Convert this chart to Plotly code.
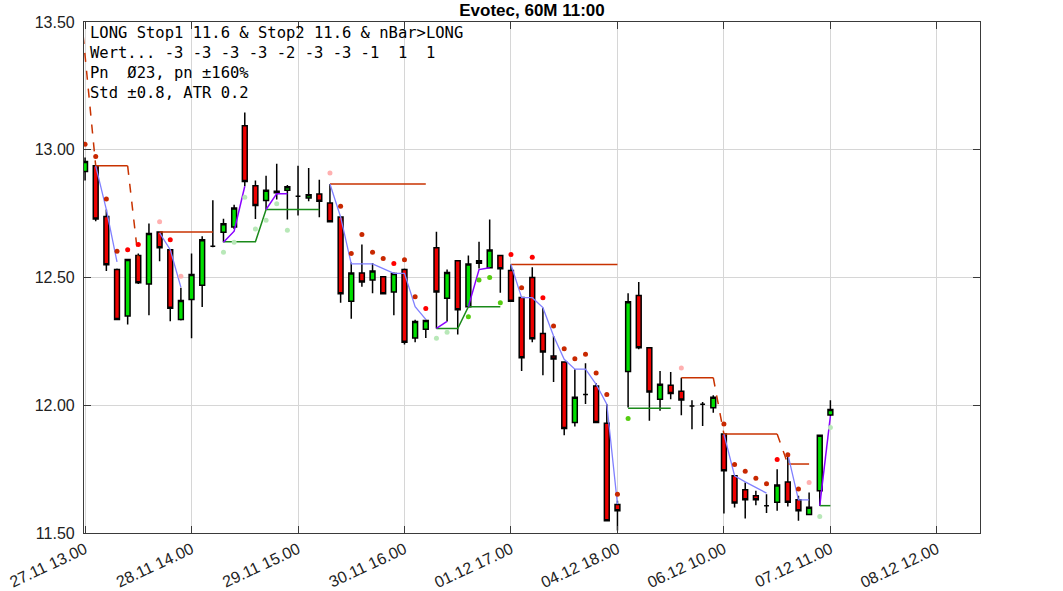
import plotly.graph_objects as go

# ---------------- data ----------------
bar_index = list(range(71))
open_ = [12.915, 12.937, 12.739, 12.531, 12.349, 12.586, 12.475, 12.678, 12.609, 12.336,
         12.414, 12.470, 12.622, 12.677, 12.698, 13.094, 12.859, 12.801, 12.838, 12.841,
         12.818, 12.811, 12.827, 12.792, 12.737, 12.407, 12.518, 12.490, 12.503, 12.443,
         12.531, 12.263, 12.297, 12.616, 12.419, 12.566, 12.386, 12.556, 12.538, 12.586,
         12.527, 12.422, 12.500, 12.281, 12.193, 12.169, 11.932, 12.042, 12.075, 11.930,
         11.612, 12.132, 12.430, 12.225, 12.023, 12.078, 12.055, 11.997, 12.004, 11.990,
         11.887, 11.724, 11.669, 11.646, 11.607, 11.620, 11.700, 11.630, 11.572, 11.665,
         11.962]
high = [12.970, 12.940, 12.766, 12.535, 12.570, 12.594, 12.711, 12.680, 12.612, 12.460,
        12.594, 12.661, 12.802, 12.730, 12.785, 13.146, 12.880, 12.898, 12.945, 12.862,
        12.937, 12.929, 12.883, 12.866, 12.740, 12.559, 12.629, 12.557, 12.505, 12.520,
        12.535, 12.335, 12.336, 12.679, 12.531, 12.568, 12.586, 12.640, 12.727, 12.588,
        12.551, 12.424, 12.540, 12.382, 12.271, 12.171, 12.141, 12.164, 12.086, 12.004,
        11.626, 12.438, 12.482, 12.227, 12.134, 12.130, 12.108, 12.020, 12.013, 12.039,
        11.889, 11.726, 11.698, 11.665, 11.652, 11.750, 11.809, 11.646, 11.659, 11.885,
        12.020]
low = [12.880, 12.720, 12.525, 12.333, 12.316, 12.475, 12.352, 12.564, 12.329, 12.332,
       12.262, 12.385, 12.618, 12.638, 12.690, 12.857, 12.729, 12.766, 12.805, 12.727,
       12.743, 12.798, 12.736, 12.716, 12.401, 12.339, 12.464, 12.438, 12.434, 12.352,
       12.238, 12.247, 12.263, 12.300, 12.328, 12.277, 12.384, 12.535, 12.536, 12.440,
       12.405, 12.134, 12.247, 12.117, 12.091, 11.883, 11.917, 12.005, 11.930, 11.546,
       11.510, 11.991, 12.219, 11.939, 11.978, 12.023, 11.961, 11.906, 11.919, 11.971,
       11.576, 11.600, 11.557, 11.609, 11.578, 11.587, 11.604, 11.548, 11.570, 11.607,
       11.958]
close = [12.954, 12.729, 12.550, 12.336, 12.570, 12.479, 12.672, 12.616, 12.380, 12.410,
         12.512, 12.648, 12.622, 12.710, 12.772, 12.876, 12.782, 12.841, 12.832, 12.855,
         12.818, 12.824, 12.798, 12.718, 12.436, 12.518, 12.482, 12.525, 12.436, 12.516,
         12.247, 12.328, 12.332, 12.443, 12.520, 12.374, 12.553, 12.566, 12.608, 12.534,
         12.407, 12.186, 12.260, 12.208, 12.181, 11.909, 12.031, 12.042, 11.932, 11.548,
         11.587, 12.405, 12.225, 12.052, 12.082, 12.046, 12.021, 11.997, 12.004, 12.031,
         11.744, 11.617, 11.630, 11.630, 11.607, 11.688, 11.620, 11.587, 11.601, 11.883,
         11.983]

tick_index = [0, 10, 20, 30, 40, 50, 60, 70, 80]
tick_labels = ["27.11 13.00", "28.11 14.00", "29.11 15.00", "30.11 16.00", "01.12 17.00",
               "04.12 18.00", "06.12 10.00", "07.12 11.00", "08.12 12.00"]
y_ticks = [11.5, 12.0, 12.5, 13.0, 13.5]

# stop line (solid parts), None = break
stop_x = [1, 4, None, 7, 12, None, 23, 32, None, 40, 50, None, 56, 59, None, 60, 65, None, 66, 68]
stop_y = [12.937, 12.937, None, 12.678, 12.678, None, 12.866, 12.866, None, 12.551, 12.551, None,
          12.108, 12.108, None, 11.887, 11.887, None, 11.770, 11.770]
# stop line (dashed transitions)
stopd_x = [-1, 1, None, 4, 5, None, 59, 60, None, 65, 66]
stopd_y = [13.80, 12.937, None, 12.937, 12.570, None, 12.108, 11.887, None, 11.887, 11.770]

# dots above
dark_x = [0, 1, 2, 3, 24, 25, 26, 27, 28, 30, 31, 41, 44, 45, 46, 47, 48, 49, 50,
          60, 61, 62, 63, 64, 66, 67]
dark_y = [13.022, 12.974, 12.807, 12.603, 12.779, 12.594, 12.668, 12.599, 12.574, 12.569,
          12.425, 12.460, 12.310, 12.221, 12.182, 12.200, 12.126, 12.042, 11.652,
          11.927, 11.768, 11.742, 11.714, 11.693, 11.806, 11.672]
bright_x = [4, 5, 8, 29, 32, 40, 42, 43, 65]
bright_y = [12.609, 12.629, 12.648, 12.555, 12.379, 12.590, 12.579, 12.421, 11.788]
pink_x = [7, 9, 23, 56, 68]
pink_y = [12.718, 12.505, 12.909, 12.146, 11.698]

# dots below
lgreen_x = [13, 14, 15, 16, 17, 18, 19, 33, 34, 69, 70]
lgreen_y = [12.599, 12.638, 12.814, 12.690, 12.724, 12.789, 12.685, 12.262, 12.286, 11.565, 11.913]
bgreen_x = [36, 37, 38, 39, 51]
bgreen_y = [12.346, 12.490, 12.500, 12.401, 11.948]

# green support line
green_x = [13, 16, 17, 22, None, 33, 35, 36, 39, None, 51, 55, None, 69, 70]
green_y = [12.640, 12.640, 12.766, 12.766, None, 12.300, 12.300, 12.386, 12.386, None,
           11.988, 11.988, None, 11.607, 11.607]

# blue trailing line
blue_x = [1, 2, 3, None, 7, 8, 9, None, 23, 24, 25, 26, 27, 28, 29, 30, 31, 32, None,
          40, 41, 42, 43, 44, 45, 46, 47, 48, 49, 50, None, 60, 61, 62, 63, 64, None, 66, 67, 68]
blue_y = [12.937, 12.766, 12.561, None, 12.675, 12.609, 12.462, None,
          12.866, 12.737, 12.553, 12.553, 12.553, 12.535, 12.516, 12.516, 12.386, 12.336, None,
          12.551, 12.421, 12.421, 12.382, 12.271, 12.180, 12.141, 12.141, 12.082, 12.004, 11.613, None,
          11.887, 11.724, 11.700, 11.678, 11.656, None, 11.809, 11.630, 11.630]

# purple trailing line
purple_x = [13, 14, 15, None, 17, 18, 19, None, 33, 34, None, 36, 37, 38, None, 69, 70]
purple_y = [12.638, 12.681, 12.857, None, 12.766, 12.828, 12.828, None, 12.301, 12.328, None,
            12.386, 12.531, 12.538, None, 11.607, 11.958]

info_lines = ["LONG Stop1 11.6 & Stop2 11.6 & nBar>LONG",
              "Wert... -3 -3 -3 -3 -2 -3 -3 -1  1  1",
              "Pn  Ø23, pn ±160%",
              "Std ±0.8, ATR 0.2"]
title_text = "Evotec, 60M 11:00"

# ---------------- figure ----------------
fig = go.Figure()

fig.add_trace(go.Candlestick(
    x=bar_index, open=open_, high=high, low=low, close=close,
    increasing=dict(line=dict(color="black", width=1.5), fillcolor="#00e000"),
    decreasing=dict(line=dict(color="black", width=1.5), fillcolor="#ee0000"),
    whiskerwidth=0, hoverinfo="skip"))

def line(xs, ys, color, width=1.3, dash=None):
    fig.add_trace(go.Scatter(x=xs, y=ys, mode="lines", connectgaps=False,
                             line=dict(color=color, width=width, dash=dash),
                             hoverinfo="skip"))

def dots(xs, ys, color):
    fig.add_trace(go.Scatter(x=xs, y=ys, mode="markers",
                             marker=dict(color=color, size=5, line=dict(width=0)),
                             hoverinfo="skip"))

line(stop_x, stop_y, "#c83200", 1.5)
line(stopd_x, stopd_y, "#c83200", 1.5, "dash")
line(green_x, green_y, "#1a8a1a", 1.5)
line(blue_x, blue_y, "#8080ff", 1.3)
line(purple_x, purple_y, "#8a00ff", 1.5)
dots(dark_x, dark_y, "#c82800")
dots(bright_x, bright_y, "#ff0000")
dots(pink_x, pink_y, "#ffb0b0")
dots(lgreen_x, lgreen_y, "#b8e8b8")
dots(bgreen_x, bgreen_y, "#55cc11")

fig.add_annotation(
    text="<br>".join(s.replace("  ", "\u00a0\u00a0") for s in info_lines),
    xref="paper", yref="paper", x=0.004, y=1.0, xanchor="left", yanchor="top",
    align="left", showarrow=False,
    font=dict(family="DejaVu Sans Mono", size=15.5, color="black"))

axis_common = dict(showline=True, linecolor="#3a3a3a", linewidth=1.2, mirror="ticks",
                   ticks="inside", ticklen=7, tickcolor="#3a3a3a", automargin=False,
                   showgrid=True, gridcolor="#d6d6d6", gridwidth=1, zeroline=False,
                   tickfont=dict(family="Liberation Sans, Arial", size=16, color="#222222"))

fig.update_layout(
    width=1063, height=591,
    margin=dict(l=84, r=83, t=22, b=58, autoexpand=False),
    paper_bgcolor="white", plot_bgcolor="white",
    showlegend=False,
    boxgap=0.35,
    title=dict(text="<b>" + title_text + "</b>", x=0.5, xref="paper", xanchor="center",
               y=0.983, yref="container", yanchor="middle",
               font=dict(family="Liberation Sans, Arial", size=17, color="black")),
    xaxis=dict(range=[-0.1, 84.05], tickmode="array", tickvals=tick_index, ticktext=tick_labels,
               tickangle=-25, rangeslider=dict(visible=False), **axis_common),
    yaxis=dict(range=[11.5, 13.5], tickmode="array", tickvals=y_ticks,
               ticktext=[f"{v:.2f}" for v in y_ticks], ticklabelstandoff=5, **axis_common),
)

fig.write_html("out.html", config={"displayModeBar": False},
               post_script="document.body.style.margin='0';")
